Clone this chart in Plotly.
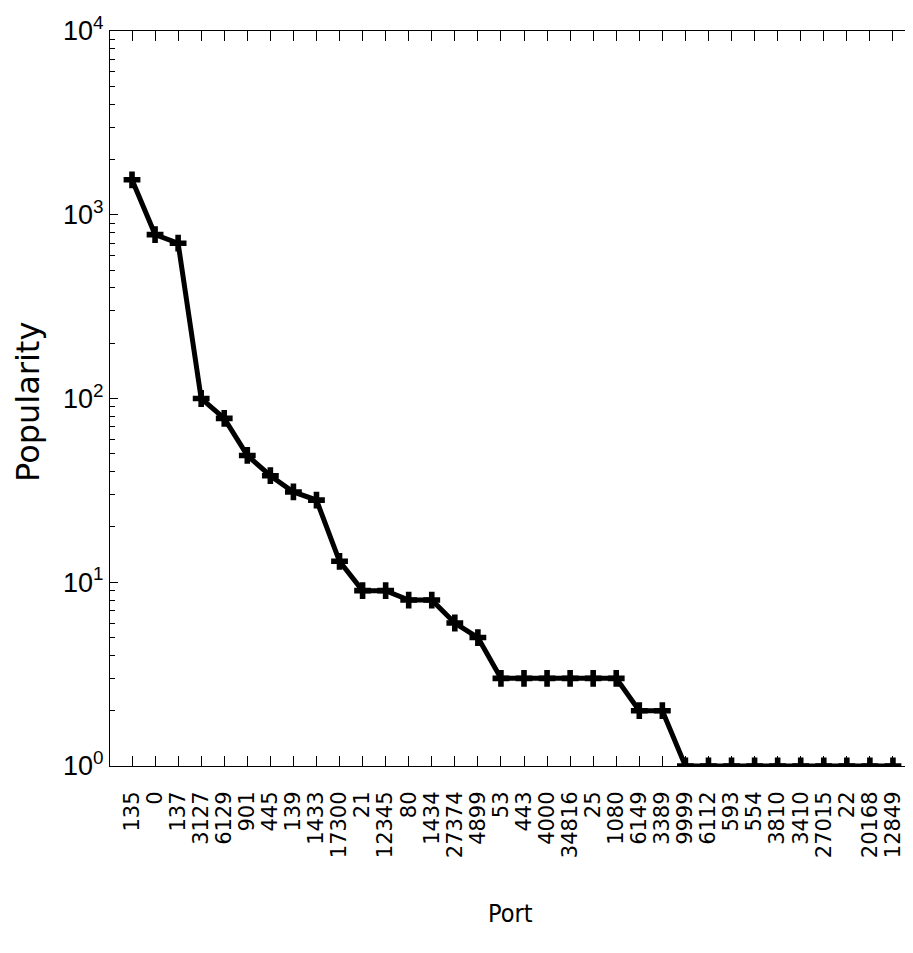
import plotly.graph_objects as go

ports = ["135", "0", "137", "3127", "6129", "901", "445", "139", "1433", "17300",
         "21", "12345", "80", "1434", "27374", "4899", "53", "443", "4000", "34816",
         "25", "1080", "6149", "3389", "9999", "6112", "593", "554", "3810", "3410",
         "27015", "22", "20168", "12849"]
popularity = [1550, 780, 700, 100, 78, 49, 38, 31, 28, 13,
              9, 9, 8, 8, 6, 5, 3, 3, 3, 3,
              3, 3, 2, 2, 1, 1, 1, 1, 1, 1,
              1, 1, 1, 1]
y_tickvals = [1, 10, 100, 1000, 10000]
y_ticktext = ["10<sup>0</sup>", "10<sup>1</sup>", "10<sup>2</sup>", "10<sup>3</sup>", "10<sup>4</sup>"]

idx = list(range(len(ports)))

fig = go.Figure()
fig.add_trace(go.Scatter(
    x=idx, y=popularity, mode="lines+markers",
    line=dict(color="black", width=5),
    marker=dict(symbol="cross", size=14, color="black"),
    showlegend=False,
))

# page body has an 8px margin, so the figure sits at (8, 8)
OFF = 8
W, H = 913 - OFF, 953 - OFF
L, T, R = 110 - OFF, 31 - OFF, 0
B = H + OFF - 766
pw, ph = W - L - R, H - T - B
px0, py0 = 110, 31  # screen position of plot area


def ax(xs):
    return (xs - px0) / pw


def ay(ys):
    return 1 - (ys - py0) / ph


fig.update_layout(
    width=W, height=H,
    margin=dict(l=L, r=R, t=T, b=B, autoexpand=False),
    paper_bgcolor="white", plot_bgcolor="white",
    xaxis=dict(
        range=[-0.954, 33.87], tickmode="array", tickvals=idx, ticktext=ports,
        tickangle=-90, ticks="inside", ticklen=10, tickcolor="black",
        showline=True, linecolor="black", linewidth=1, mirror="ticks",
        showgrid=False, zeroline=False, automargin=False,
        tickfont=dict(family="DejaVu Sans", size=21, color="black"),
        ticklabelstandoff=16,
    ),
    yaxis=dict(
        type="log", range=[0, 4], tickmode="array",
        tickvals=y_tickvals, ticktext=y_ticktext,
        ticks="inside", ticklen=8, tickcolor="black",
        showline=True, linecolor="black", linewidth=1, mirror="ticks",
        showgrid=False, zeroline=False, automargin=False,
        tickfont=dict(family="Liberation Sans", size=27, color="black"),
        ticklabelstandoff=0,
        minor=dict(dtick="D1", ticks="inside", ticklen=5, tickcolor="black", showgrid=False),
    ),
    annotations=[
        dict(text="Popularity", xref="paper", yref="paper",
             x=ax(28), y=ay(402), textangle=-90,
             showarrow=False, xanchor="center", yanchor="middle",
             font=dict(family="DejaVu Sans", size=32, color="black")),
        dict(text="Port", xref="paper", yref="paper",
             x=ax(510), y=ay(913),
             showarrow=False, xanchor="center", yanchor="middle",
             font=dict(family="DejaVu Sans Condensed, Liberation Sans", size=25, color="black")),
    ],
)

fig.write_html("out.html")
